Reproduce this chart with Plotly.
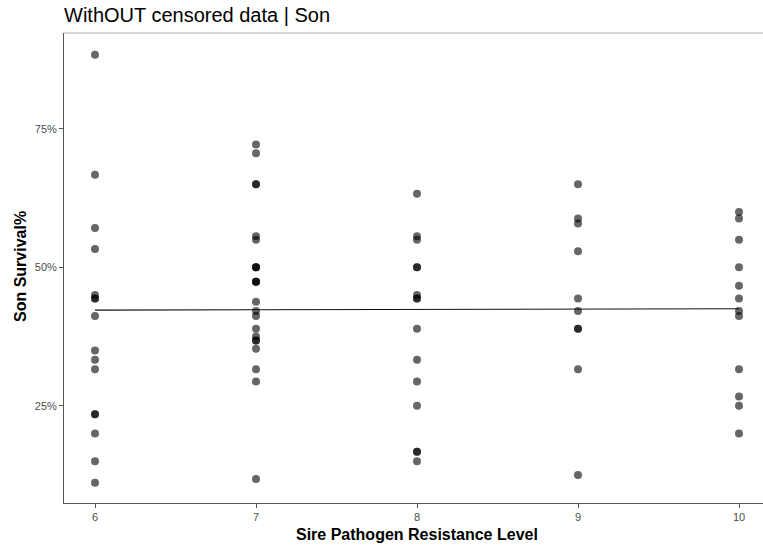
import numpy as np
import plotly.graph_objects as go

# Son survival (%) per sire, grouped by sire pathogen resistance level
levels = [6, 7, 8, 9, 10]
survival_6 = [88.4, 66.7, 57.1, 53.3, 45.0, 44.4, 44.4, 41.2, 35.0, 33.3, 31.6,
              23.5, 23.5, 20.0, 15.0, 11.1]
survival_7 = [72.2, 70.6, 65.0, 65.0, 55.6, 55.0, 50.0, 50.0, 50.0, 47.4, 47.4,
              47.4, 43.8, 42.1, 41.2, 38.9, 37.5, 36.8, 36.8, 35.3, 31.6, 29.4, 11.8]
survival_8 = [63.3, 55.6, 55.0, 50.0, 50.0, 45.0, 44.4, 44.4, 38.9, 33.3, 29.4,
              25.0, 16.7, 16.7, 15.0]
survival_9 = [65.0, 58.8, 57.9, 52.9, 44.4, 42.1, 38.9, 38.9, 31.6, 12.5]
survival_10 = [60.0, 58.8, 55.0, 50.0, 46.7, 44.4, 42.1, 41.2, 31.6, 26.7, 25.0, 20.0]

y_ticks = [25, 50, 75]

groups = [survival_6, survival_7, survival_8, survival_9, survival_10]
xs = np.concatenate([[lv] * len(g) for lv, g in zip(levels, groups)]).astype(float)
ys = np.concatenate(groups).astype(float)

# ordinary least-squares trend line across all sires
slope, intercept = np.polyfit(xs, ys, 1)
fit_x = np.array([min(levels), max(levels)], dtype=float)
fit_y = intercept + slope * fit_x

fig = go.Figure()
fig.add_trace(go.Scatter(
    x=xs, y=ys, mode="markers",
    marker=dict(size=8, color="rgba(0,0,0,0.6)", line=dict(width=0)),
    hoverinfo="x+y", showlegend=False,
))
fig.add_trace(go.Scatter(
    x=fit_x, y=fit_y, mode="lines",
    line=dict(color="#111111", width=1.2),
    hoverinfo="skip", showlegend=False,
))

W, H = 763, 548
fig.update_layout(
    width=W, height=H,
    margin=dict(l=64, r=0, t=33, b=45),
    paper_bgcolor="white", plot_bgcolor="white",
    font=dict(family="Liberation Sans, Arial, sans-serif", color="#4d4d4d", size=11),
    title=dict(
        text="WithOUT censored data | Son",
        x=64 / W, xanchor="left", xref="container",
        y=1 - 14.5 / H, yanchor="middle", yref="container",
        font=dict(size=20, color="black"),
    ),
    xaxis=dict(
        range=[6 - 31 / 161, 10 + 24 / 161],
        tickmode="array", tickvals=levels, ticktext=[str(v) for v in levels],
        showgrid=False, zeroline=False,
        showline=True, linecolor="#555555", linewidth=1,
        ticks="outside", ticklen=4, tickcolor="#555555", tickwidth=1,
        tickfont=dict(size=11, color="#4d4d4d"),
    ),
    yaxis=dict(
        range=[7.46, 92.31],
        tickmode="array", tickvals=y_ticks, ticktext=[f"{v}%" for v in y_ticks],
        showgrid=False, zeroline=False,
        showline=True, linecolor="#555555", linewidth=1,
        ticks="outside", ticklen=4, tickcolor="#555555", tickwidth=1,
        tickfont=dict(size=11, color="#4d4d4d"),
    ),
    annotations=[
        dict(text="<b>Sire Pathogen Resistance Level</b>", xref="paper", yref="paper",
             x=(417 - 64) / (W - 64), y=-(534 - 503) / (H - 33 - 45),
             xanchor="center", yanchor="middle", showarrow=False,
             font=dict(size=16, color="black")),
        dict(text="<b>Son Survival%</b>", xref="paper", yref="paper",
             x=-(64 - 20) / (W - 64), y=(503 - 267) / (H - 33 - 45),
             xanchor="center", yanchor="middle", showarrow=False, textangle=-90,
             font=dict(size=16, color="black")),
    ],
    shapes=[
        dict(type="line", xref="paper", yref="paper", x0=0, x1=1, y0=1, y1=1,
             line=dict(color="#b0b0b0", width=1)),
    ],
)

fig.write_html("out.html")
